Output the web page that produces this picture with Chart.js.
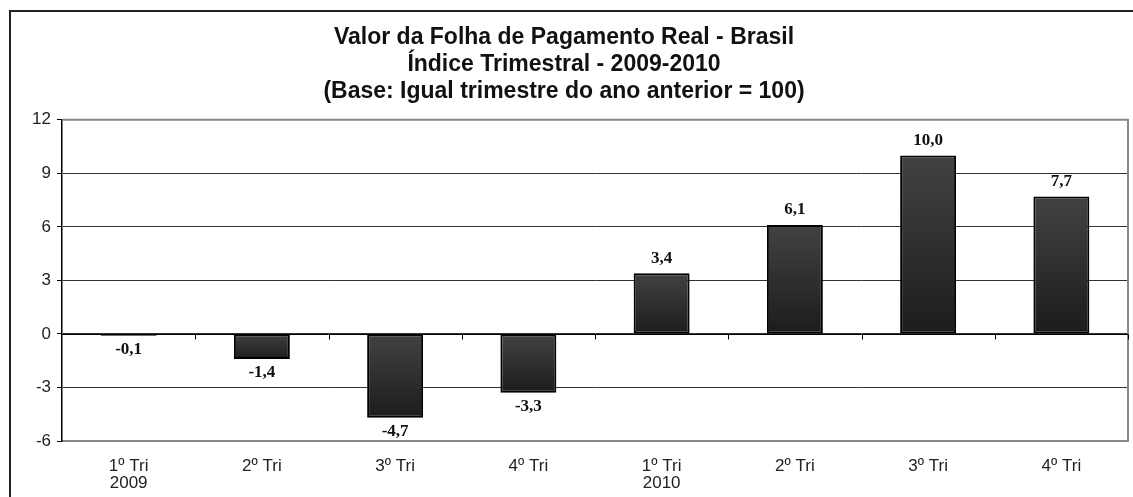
<!DOCTYPE html>
<html>
<head>
<meta charset="utf-8">
<script src="https://cdn.jsdelivr.net/npm/chart.js@4/dist/chart.umd.min.js"></script>
<style>
  html, body { margin: 0; padding: 0; background: #fff; }
  #caixa { position: relative; width: 1133px; height: 497px; }
  #moldura {
    position: absolute; left: 9px; top: 10px; right: 0; bottom: -5px;
    border-left: 2px solid #222; border-top: 2px solid #222;
    pointer-events: none;
  }
</style>
</head>
<body>
<div id="caixa">
  <canvas id="grafico" width="1133" height="497"></canvas>
  <div id="moldura"></div>
</div>
<script>
// Dados do gráfico
const categorias = [['1º Tri', '2009'], '2º Tri', '3º Tri', '4º Tri', ['1º Tri', '2010'], '2º Tri', '3º Tri', '4º Tri'];
const valores = [-0.1, -1.4, -4.7, -3.3, 3.4, 6.1, 10.0, 7.7];
const eixoY = { min: -6, max: 12, passo: 3 };
const titulo = [
  'Valor da Folha de Pagamento Real - Brasil',
  'Índice Trimestral - 2009-2010',
  '(Base: Igual trimestre do ano anterior = 100)'
];

const fonteSans = '"Liberation Sans", Arial, sans-serif';
const fonteSerif = '"Liberation Serif", "Times New Roman", serif';

// Gradiente de cada barra (topo mais claro, base mais escura)
function corBarra(ctx) {
  const chart = ctx.chart;
  const y = chart.scales.y;
  if (!y || ctx.dataIndex === undefined) return '#2a2a2a';
  const v = valores[ctx.dataIndex];
  const topo = y.getPixelForValue(Math.max(v, 0));
  const base = y.getPixelForValue(Math.min(v, 0));
  if (!isFinite(topo) || !isFinite(base) || topo === base) return '#2a2a2a';
  const g = chart.ctx.createLinearGradient(0, topo, 0, base);
  g.addColorStop(0, '#424242');
  g.addColorStop(1, '#1c1c1c');
  return g;
}

// Moldura da área de plotagem, linha do zero e rótulos de dados
const extras = {
  id: 'extras',
  beforeDatasetsDraw(chart) {
    const { ctx, chartArea: a } = chart;
    ctx.save();
    ctx.strokeStyle = '#888';
    ctx.lineWidth = 2;
    ctx.beginPath();
    ctx.moveTo(a.left, a.top);
    ctx.lineTo(a.right, a.top);
    ctx.lineTo(a.right, a.bottom);
    ctx.stroke();
    ctx.restore();
  },
  afterDatasetsDraw(chart) {
    const { ctx, chartArea: a, scales } = chart;
    const y0 = Math.round(scales.y.getPixelForValue(0)) + 0.5;
    ctx.save();
    ctx.strokeStyle = '#000';
    ctx.lineWidth = 1;
    ctx.beginPath();
    ctx.moveTo(a.left, y0);
    ctx.lineTo(a.right, y0);
    for (let i = 0; i < valores.length; i++) {
      const x = i < valores.length - 1
        ? (scales.x.getPixelForValue(i) + scales.x.getPixelForValue(i + 1)) / 2
        : a.right;
      const xr = Math.round(x) + 0.5;
      ctx.moveTo(xr, y0);
      ctx.lineTo(xr, y0 + 5);
    }
    ctx.stroke();

    ctx.fillStyle = '#111';
    ctx.font = 'bold 17px ' + fonteSerif;
    ctx.textAlign = 'center';
    ctx.textBaseline = 'middle';
    chart.getDatasetMeta(0).data.forEach((barra, i) => {
      const v = valores[i];
      const txt = v.toFixed(1).replace('.', ',');
      const yy = v >= 0 ? barra.y - 15 : barra.y + 14;
      ctx.fillText(txt, barra.x, yy);
    });
    ctx.restore();
  }
};

new Chart(document.getElementById('grafico'), {
  type: 'bar',
  data: {
    labels: categorias,
    datasets: [{
      data: valores,
      backgroundColor: corBarra,
      borderColor: '#000',
      borderWidth: 2,
      borderSkipped: false,
      categoryPercentage: 1,
      barPercentage: 0.42
    }]
  },
  options: {
    responsive: false,
    animation: false,
    layout: { padding: { left: 0, right: 5, top: 0, bottom: 0 } },
    plugins: {
      legend: { display: false },
      tooltip: { enabled: false },
      title: {
        display: true,
        text: titulo,
        color: '#111',
        font: { family: fonteSans, size: 23, weight: 'bold', lineHeight: 1.17 },
        padding: { top: 24, bottom: 15 }
      }
    },
    scales: {
      x: {
        grid: { display: false, drawTicks: false },
        border: { display: true, color: '#888', width: 2 },
        ticks: {
          color: '#222',
          font: { family: fonteSans, size: 17, lineHeight: 1.05 },
          padding: 16,
          maxRotation: 0,
          autoSkip: false
        },
        afterFit(scale) { scale.height = 56; }
      },
      y: {
        min: eixoY.min,
        max: eixoY.max,
        ticks: {
          stepSize: eixoY.passo,
          color: '#222',
          font: { family: fonteSans, size: 17 },
          padding: 6
        },
        grid: {
          color: (c) => (c.tick && (c.tick.value === eixoY.max || c.tick.value === eixoY.min)) ? 'rgba(0,0,0,0)' : '#333',
          lineWidth: 1,
          tickLength: 5,
          tickColor: '#000'
        },
        border: { display: true, color: '#000', width: 1.5 },
        afterFit(scale) { scale.width = 62; }
      }
    }
  },
  plugins: [extras]
});
</script>
</body>
</html>
